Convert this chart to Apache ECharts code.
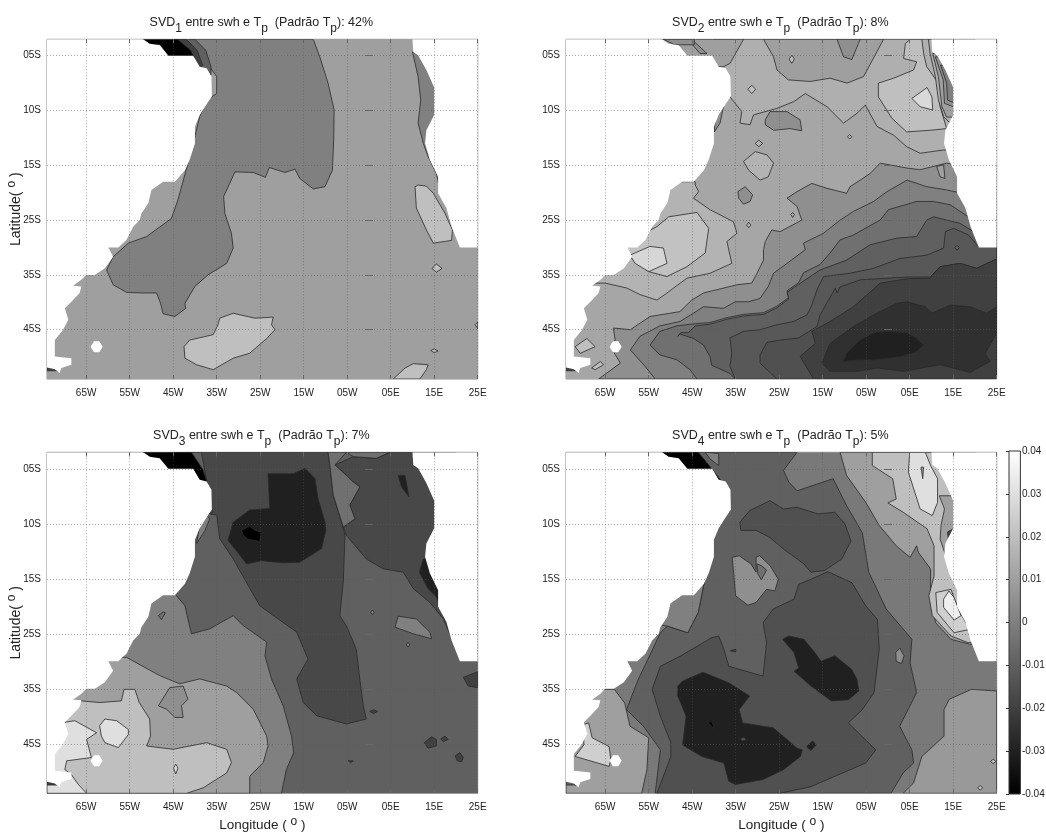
<!DOCTYPE html>
<html><head><meta charset="utf-8">
<style>html,body{margin:0;padding:0;background:#fff}#c{width:1046px;height:834px;filter:blur(0.5px)}</style>
<script src="https://cdn.jsdelivr.net/npm/echarts@6/dist/echarts.min.js"></script>
</head><body><div id="c"></div>
<script>
// ---- axis ticks and labels ----
const lonTicks=[-65,-55,-45,-35,-25,-15,-5,5,15,25];
const lonLabels=['65W','55W','45W','35W','25W','15W','05W','05E','15E','25E'];
const latTicks=[-5,-15,-25,-35,-45,-55];
const latLabels=['05S','10S','15S','25S','35S','45S'];
const lonRange=[-74,25];
const latRange=[-64,-2];
const colorRange=[-0.04,0.04];
const modeShare=['42%','8%','7%','5%'];

// ---- land (no data) ----
const landSouthAmerica=[-74,-2,-51.9,-2,-50.4,-2.8,-48.1,-3.1,-46.1,-5,-40.4,-5,-38.9,-7,-37.3,-7.3,-36.2,-8.8,-36.1,-12.4,-37.7,-14.3,-38.9,-15.8,-40,-17.9,-40,-21,-41.2,-24,-42.3,-25.9,-44.6,-28,-47.3,-28,-50,-29.5,-50.7,-31.9,-52.3,-33.8,-52.7,-35,-54.2,-36.2,-55.7,-38.6,-57.6,-40,-59.9,-40,-58.8,-41.7,-60.7,-43.8,-63,-45,-65,-45,-66.1,-45.9,-68,-47,-66.1,-47.1,-66.5,-48.3,-68,-49.6,-69.9,-51.1,-69.1,-53.2,-70.3,-55,-72.2,-56.9,-72.2,-59.9,-68.4,-60.2,-68.4,-61.4,-70.7,-62,-71.1,-62.9,-72.2,-62.2,-74,-61.9];
const landAfrica=[10,-2,10.2,-4.3,11.3,-4.9,13.2,-7.6,15,-10.8,15,-15.8,13.2,-18.6,12.9,-21,14,-24,15.9,-27.1,15.9,-30.1,17.8,-32.8,19,-36.2,20.9,-40,25,-40,25,-2];
const landIsland=[-64,-58.1,-63.2,-57.1,-62,-57.1,-61.2,-58.1,-62,-59.1,-63.2,-59.1];
const wholeBasin=[-74,-2,25,-2,25,-64,-74,-64];
const southTipStrip=[-74,-61.9,-71.5,-61.9,-71,-62.5,-74,-62.5];

// ---- filled contour regions: [value, lon,lat, lon,lat, ...] painted in order ----
const panel1Regions=[
[0.01].concat(wholeBasin),
[0,-12.8,-2,-11.3,-5.2,-9.4,-10,-8,-14.9,-8.1,-20.4,-8.4,-25.9,-10.1,-28.9,-12.8,-29.3,-15.9,-27.4,-17,-25.7,-19.3,-26.3,-22.9,-25.4,-23.8,-27.2,-26.6,-26.3,-30.8,-26.2,-32,-28.3,-33.4,-30.7,-33.1,-33.8,-31.6,-37.4,-31.2,-40.1,-32.7,-42.9,-37,-45,-40,-47.1,-42.3,-50.2,-42.1,-51.1,-44.6,-52.6,-47.3,-52.1,-47.9,-50.2,-48.8,-48.3,-51.9,-48.3,-55.7,-48.2,-58.8,-46.8,-60.3,-44.1,-58.8,-41.7,-55.3,-39.2,-51.1,-38,-45.4,-34.7,-43.9,-31.3,-41.9,-25.5,-40.4,-21,-38.9,-16.1,-37.3,-13.1,-35,-11.9,-35,-8.8,-41.2,-2],
[-0.01,-44,-2,-40,-2,-37.5,-4,-36.3,-7,-36.3,-8.5,-40,-8.5,-44,-5],
[-0.02,-45,-2,-42,-2,-39.5,-4,-38.2,-6.8,-40,-8,-45,-5],
[-0.04,-52,-2,-44,-2,-41,-4,-40.2,-5.2,-46,-5.2,-48,-3,-51,-3],
[0,10,-4.3,11.3,-8.8,11.9,-13.1,11.3,-17.3,12.5,-21,13.6,-23.4,15.5,-26.5,16,-28.3,17,-28.3,17,-4.3],
[0.02,10.6,-28.9,10.9,-32.8,13.2,-36.8,14.8,-39.2,19,-38.7,19.2,-36.8,17.5,-33.8,14.8,-30.1,13.2,-28.8,11.3,-28.6],
[0.02,-34.3,-52.9,-31.2,-52,-26.2,-52.9,-22,-52.7,-22.4,-54.1,-21.6,-55,-23.5,-56.6,-27.4,-59.3,-31.2,-60.2,-35.8,-62.3,-39.6,-61.4,-42.3,-60.2,-42.5,-58.1,-41.2,-56.9,-35.8,-55.9,-34.7,-54.1],
[0.02,5.6,-64,8.3,-62,10.2,-61.2,13.6,-61.4,13.2,-62.3,11.7,-64],
[0.02,14.5,-43.8,15.5,-43,16.8,-43.8,15.5,-44.5],
[0.02,14.2,-58.8,15,-58.5,15.9,-58.9,15,-59.2],
[0.02,25,-53.6,24.4,-54.1,25,-54.8],
[-0.02].concat(southTipStrip)
];
const panel2Regions=[
[0.012].concat(wholeBasin),
[0.015,-37,-13.1,-36.3,-12.5,-33.6,-15.2,-34,-17.3,-31.7,-17.6,-30.9,-15.8,-25.5,-14.6,-21.7,-13.4,-19,-11.9,-14,-14.3,-10.2,-17.3,-7.1,-15.5,-5.2,-14,-2.5,-17.9,1.3,-19.5,4.3,-21.6,7.4,-22.8,12.8,-22.2,15.8,-22.5,20,-22.5,20,-2,-40,-2,-40,-13],
[0.01,-52,-2,-33.2,-2,-36.3,-6.4,-37.8,-7,-45,-7,-52,-4],
[0.01,-28.6,-2,-26.3,-5.2,-25.5,-7.6,-22.9,-9.4,-17.9,-9.7,-13.3,-9.1,-9.4,-10,-5.6,-8.8,-1,-2],
[0.005,-11.7,-2,-10.2,-5.2,-8.3,-5.7,-6.8,-2.8,-6.4,-2],
[0.005,-45.1,-2,-41.6,-4.6,-43.2,-4.6,-44.8,-3.1],
[0.005,-51.6,-2,-44.5,-2,-44.5,-3,-49,-3],
[0.02,-2.2,-10,1.3,-9.1,5.9,-7.6,6.6,-6.1,3.6,-5.5,4,-2.8,5.1,-2,7.8,-2,8.2,-4.6,8.9,-7,11.6,-10,12,-14.3,13.5,-18.3,9.7,-18.6,4.3,-18.9,0.9,-16.4,-2.2,-12.5],
[0.028,5.5,-12.8,9,-10.8,10.1,-12.5,10.3,-14.9,7.4,-14.3],
[0.015,9.3,-2,9.7,-4.6,10.9,-8.8,11.6,-13.1,12.8,-16.1,14.3,-17.3,20,-17.3,20,-2],
[0.01,10.3,-4.6,11.6,-8.8,12.4,-14.3,13.5,-16.2,15,-16.2,20,-16.2,20,-4.6],
[0.005,10.9,-5.2,12.7,-9.4,13,-13.7,15,-14.3,20,-14.3,20,-5.2],
[0,12.1,-6.7,13.5,-10,13.7,-13.1,15.2,-13.6,20,-13.6,20,-7],
[0.005,-28.2,-16.7,-27.1,-15.2,-23.2,-15.2,-20.2,-16.7,-19.8,-18.7,-22.5,-18.3,-26.3,-18.6,-28.2,-17.6],
[0.016,-33.2,-24.3,-30.5,-22.5,-27.8,-23.1,-26.3,-24.6,-27.5,-27.1,-29.4,-27.7,-32,-25.9],
[0.016,-30.5,-21,-29.7,-20.4,-28.8,-21,-29.7,-21.6],
[0.005,-34.5,-29.8,-32.8,-28.9,-31.1,-30.4,-31.7,-31.6,-33.2,-32.1,-34.3,-31],
[0.005,-39.9,-18.9,-39.7,-16.7,-37.8,-14.3,-38.6,-17.3],
[0.02,-22.7,-5.6,-22.1,-4.9,-21.5,-5.6,-22.1,-6.4],
[0.02,-32.2,-11.1,-31.3,-10.4,-30.4,-11.1,-31.3,-11.9],
[0.016,-9.3,-19.8,-8.8,-19.4,-8.3,-19.8,-8.8,-20.2],
[0.016,-22.3,-34,-21.9,-33.6,-21.5,-34,-21.9,-34.5],
[0.016,-32.5,-35.9,-32,-35.4,-31.5,-35.9,-32,-36.4],
[0.016,-44.3,-28.6,-43.5,-29.8,-44.7,-31,-40.9,-33.1,-35.5,-35.3,-34.7,-37.4,-37,-38.9,-35.9,-42.9,-40.9,-44.7,-46.2,-45.6,-50.8,-48.3,-53.1,-49.6,-57,-48.6,-60,-47.4,-65,-46.5,-70,-46.5,-70,-28,-44.3,-28],
[0.021,-53.1,-36.2,-50.4,-34.4,-43.9,-33.6,-41.2,-36.5,-42,-41,-46.2,-43.5,-50.8,-45.3,-55,-44.4,-59.3,-41.7,-62,-40,-55,-37],
[0.027,-59.3,-41.4,-54.7,-39.8,-51.6,-40.1,-50.8,-42.9,-55,-44.4,-58.1,-42.9],
[0.02,-71.9,-58.1,-69.2,-56.6,-67.3,-58.1,-70.7,-59.3],
[0.02,-68.1,-62,-66.1,-60.8,-65.4,-61.4,-67.3,-62.3],
[0.005,-66.5,-64,-61.5,-61.1,-63.8,-58.1,-62.7,-56.9,-63.1,-54.7,-59.2,-55,-54.7,-52.6,-47.8,-51.7,-45.1,-49.6,-42.4,-48.3,-39.3,-47.7,-34.7,-46.8,-31.3,-46.5,-30.1,-44.7,-28.6,-42.3,-28.6,-40.4,-28.2,-38.9,-26.7,-36.8,-24.8,-37.1,-19.8,-35,-20.9,-32.5,-23.2,-31,-20.9,-29.8,-17.5,-28.3,-14,-29.2,-9.5,-30.1,-8.7,-28.9,-4.1,-26.5,-1.8,-24.6,4.4,-25.5,7.4,-25.8,13.5,-24.6,16.2,-24.9,25,-24.9,25,-64],
[0.01,11.2,-25.2,12.8,-24.9,13.1,-27.4,12,-27.1],
[0,-53.5,-64,-55.8,-61.7,-59.2,-58.7,-57,-56.2,-52.4,-54.3,-47.8,-53.5,-44.7,-52,-42.4,-50.8,-37.8,-51.1,-35.1,-49.9,-32,-49.9,-29.4,-49.3,-27.5,-47.1,-26.3,-44.7,-23.2,-42.9,-19,-40.4,-19.4,-39.2,-14.8,-37.4,-11,-35,-7.9,-33.4,-3.3,-31.6,-0.2,-29.8,4.4,-27.7,8.9,-28.9,13.5,-29.5,17,-30.1,25,-30.1,25,-64],
[-0.005,-43.9,-64,-45.5,-62.3,-48.5,-60.5,-52.4,-59.6,-54.7,-57.8,-52.4,-55.3,-48.5,-54.3,-44.3,-53.9,-40.9,-53.7,-37,-52.8,-33.2,-52.2,-28.6,-51.9,-25.5,-50.7,-22.8,-49.1,-23.2,-47.9,-20.5,-46.4,-19.4,-44.6,-15.6,-43.1,-13.3,-41,-11,-38.6,-7.9,-37.7,-1.8,-35,0.1,-33.1,6.6,-31.6,10.5,-31.6,14.3,-32.2,18.5,-34.4,25,-34.4,25,-64],
[-0.01,-35.1,-64,-36.3,-63,-40.5,-61.5,-40.9,-59.9,-42.4,-57.8,-44.7,-56.6,-47.8,-55.8,-48.3,-56.2,-47.6,-55.5,-45.8,-55.5,-44.3,-54.3,-40.9,-54,-37,-53.1,-33.2,-52.5,-28.6,-52.2,-25.5,-51,-22.8,-49.4,-23.2,-48.2,-20.5,-46.7,-15.6,-44.1,-9.5,-42.3,-4.1,-39.5,2,-38.3,6.6,-38,8.9,-35,10.5,-34.4,16.6,-35.6,19.7,-37.1,25,-37.1,25,-64],
[-0.0125,-35.1,-64,-36.3,-61.7,-35.9,-59.3,-36.3,-56.5,-33.2,-55.3,-29.4,-55,-25.5,-54.1,-21.7,-53.5,-18.6,-52.3,-17.5,-50.5,-16.3,-47.7,-14.8,-45.3,-8.7,-44.7,-3.3,-43.8,2.8,-42,8.9,-41.4,12.8,-40.1,13.2,-37.1,15.1,-36.5,18.5,-37.7,20.8,-39.8,25,-39.8,25,-64],
[-0.015,-25.5,-64,-29.4,-61.1,-29.4,-59.6,-27.8,-57.3,-24.8,-56.9,-20.5,-56.5,-16.3,-54.4,-15.6,-52.3,-12.1,-47.4,-11.7,-48.3,-11,-47.2,-6.4,-45.9,4.4,-45.4,9.7,-45.4,12,-43.5,16.6,-42.9,20.4,-43.8,25,-42.1,25,-64],
[-0.02,-17.1,-64,-20.2,-59.9,-16.7,-57.5,-17.5,-55.3,-13.3,-53.5,-7.9,-50.8,-1.8,-46.5,4.4,-45.7,9.7,-45.6,12,-43.5,16.6,-42.9,20.4,-43.8,25,-42.1,25,-64],
[-0.025,-15.2,-61.1,-13.3,-57.5,-7.9,-54.4,-3.3,-52.3,2,-50.2,4.4,-49.9,8.6,-50.8,10.1,-52,14.3,-50.5,18.9,-50.8,22.7,-52,25,-50.8,25,-55.6,22.4,-59.3,23.5,-60.8,18.9,-62.8,12,-61.4,3.6,-62.6,-2.5,-62,-7.1,-62.6,-13.3,-62.6],
[-0.03,-10.2,-60.8,-9.5,-59.3,-6.4,-56.9,-3.3,-55.6,-0.2,-55.3,4.4,-55.6,6.6,-56.6,8.2,-57.8,6.6,-59,2.8,-59.9,-3.3,-60.5,-7.1,-60.5],
[-0.01,15.4,-40,15.9,-39.6,16.4,-40,15.9,-40.5],
[-0.02].concat(southTipStrip)
];
const panel3Regions=[
[-0.01].concat(wholeBasin),
[-0.0175,-45,-2,-38.5,-2,-36,-13,-37.7,-13.1,-35,-13.4,-34.3,-17.7,-31.2,-21.4,-25.1,-29.9,-16.6,-34.7,-14,-39.6,-16.6,-43.2,-15.1,-47.5,-12,-49.9,-5.2,-51.4,-0.6,-50.5,-1.3,-48.1,-2.1,-43.2,-2.9,-37.8,-5.2,-33.5,-6.7,-31.7,-5.9,-25.6,-5.5,-17.1,-5.9,-15.9,-8.2,-9.8,-9,-4.3,-9.4,-2],
[-0.0175,-7.8,-4.3,-3.6,-2.8,1.7,-3.1,4.8,-2,20,-2,20,-36.5,19.4,-36.5,17.1,-32.3,14,-29.3,10.2,-26.8,7.9,-23.8,3.3,-23.2,-0.6,-21.4,-5.2,-17.1,-5.9,-15.6,-3.2,-14.1,-4.4,-11.6,-2.1,-8.3,-3.6,-7.4,-5.2,-6.2],
[-0.005,-9.4,-2,-5.2,-2,-7.8,-4.3,-5.2,-6.2,-3.6,-7.4,-2.1,-8.3,-4.4,-11.6,-3.2,-14.1,-5.9,-15.6,-8.2,-9.8,-9,-4.3],
[-0.005,-5.2,-2,-3.6,-2.8,1.7,-3.1,4.8,-2],
[0,-23.5,-36.5,-23.9,-39,-22.4,-43.2,-19.7,-48.1,-17.8,-53.6,-17.3,-56.6,-19,-59.7,-20.1,-64,-74,-64,-74,-28,-44.6,-27.7,-42.3,-29.9,-40.8,-35,-36.6,-34.1,-31.2,-31.7,-28.9,-33.5],
[0,-38.9,-15.3,-37.3,-13.4,-36.6,-14.1,-37.7,-16.2,-39.6,-18.6],
[0.01,-55.7,-39.3,-48.1,-42.6,-43.5,-44.1,-38.9,-43.2,-32.7,-44.5,-30.4,-45.7,-26.6,-48.7,-23.5,-53.6,-23.2,-55.4,-24.3,-58.4,-27.4,-60.9,-27.4,-64,-74,-64,-74,-39.3],
[0.005,-48.4,-48.1,-45.8,-44.8,-42.7,-44.5,-41.6,-46.9,-43.1,-48.1,-42.7,-50.2,-44.6,-50.2,-46.5,-48.7],
[0.02,-66.1,-47.2,-61.9,-47.5,-56.9,-47.2,-56.3,-45.1,-53.8,-45.1,-52.8,-47.5,-50.4,-50.5,-50.2,-53.6,-51.1,-55.4,-45,-56,-37.3,-54.8,-32.7,-56,-31.6,-58.4,-32.7,-60.3,-38.1,-63,-41.9,-64,-74,-64,-74,-47.2],
[0.03,-69.9,-51.1,-67.6,-50.8,-62.6,-53,-64.9,-54.2,-63.8,-57.5,-69.5,-58.1,-69.9,-59.7,-68.4,-60.6,-66.8,-62.4,-64.9,-64,-74,-64,-74,-51],
[0.03,-61.9,-51.7,-60.7,-50.5,-58,-50.8,-55.3,-52.4,-55.3,-53.3,-57.6,-55.7,-60.7,-54.8,-61.5,-53.6],
[0.03,-44.9,-59.4,-44.4,-58.7,-43.9,-59.4,-44.4,-60.5],
[-0.03,-23.2,-5.9,-17.4,-5.9,-14.7,-4.9,-12.4,-6.8,-11.7,-10.4,-10.1,-14.7,-9.9,-16.2,-10.9,-19.5,-15.9,-22,-19.7,-22.1,-24.7,-21.7,-28.1,-22.3,-32.4,-18,-31.2,-14.7,-27.4,-12.5,-22.8,-12.2],
[-0.04,-29.3,-16.2,-27.4,-15.4,-26.2,-16.2,-24.7,-16.5,-25.1,-18.2,-27.8,-17.8,-28.9,-17.1],
[-0.04,-52,-2,-40.8,-2,-38.1,-5.2,-37,-8,-45,-8,-50,-3],
[-0.03,6.7,-6.2,8.3,-6.2,9.2,-10.1,7.5,-8.3],
[-0.03,11.6,-23.8,13.6,-26.8,15.5,-28.3,17.1,-31.7,20,-31.7,20,-21,12.5,-21.4],
[0,6,-33.8,6.7,-31.8,10.9,-32.3,14,-34.7,14.4,-35.9,10.2,-35],
[-0.02,21.7,-42.9,25,-41.9,25,-44.8,22.8,-44.5],
[-0.02,12.7,-54.8,14.4,-53.7,15.5,-54.2,15.5,-55.4,13.6,-55.8],
[-0.02,16.5,-54.1,17.5,-53.6,18.2,-54.2,17.1,-54.6],
[-0.02,19.8,-57.2,20.9,-56.6,21.7,-57.5,21.3,-58.3,20.3,-58.1],
[-0.02,0.2,-49.1,1.1,-48.8,2,-49.1,1,-49.5],
[-0.02,-4.8,-58.1,-3.6,-58.1,-4.2,-58.4],
[-0.005,-48.4,-31.7,-47.3,-31,-46.8,-31.2,-47.7,-32.4],
[0,0.4,-31.1,0.8,-30.7,1.2,-31.1,0.8,-31.5],
[0,8.6,-37,9,-36.6,9.4,-37,9,-37.4],
[-0.02].concat(southTipStrip)
];
const panel4Regions=[
[-0.002].concat(wholeBasin),
[0.01,-62.9,-45.1,-60.5,-47.6,-59.3,-51.8,-55,-53.9,-55.4,-59.7,-56.6,-64,-74,-64,-74,-45.1],
[0.025,-68.8,-51.2,-68,-53.9,-64.1,-55.5,-63.7,-57.9,-64.1,-59.1,-71.9,-57.3,-69.9,-55.2,-69.9,-51.5],
[-0.01,-54.6,-38.7,-57.4,-43.3,-60.1,-48.8,-56.2,-51.8,-52.3,-56.1,-53.5,-64,0.7,-64,3.5,-60.3,5.9,-58.5,5.5,-56.1,2.7,-51.8,6.6,-45.7,5.1,-40.3,5.5,-36,-0.4,-30.5,-4.4,-23.8,-5.9,-16.6,-9.5,-11.7,-12.6,-6.8,-20.9,-9,-22.8,-7.4,-24,-5.3,-20.9,-2,-45,-2,-45,-25,-41.3,-22,-43.6,-31.1,-46,-34.8,-50.7,-33.6,-52.3,-34.8],
[0.01,-11,-2,-9.5,-6.2,-5.1,-11.1,-2,-15.3,1.9,-19,5.1,-21.1,6.6,-19,7,-20.2,9.8,-23.2,9.8,-29.3,11,-33,14.5,-36,18.8,-36.9,20,-36.9,20,-2],
[0.02,-3.6,-2,-3.6,-4.4,1.1,-6.8,1.9,-10.5,0,-11.2,3.5,-12.9,9,-15.9,10.6,-19,10.6,-24.5,9.4,-28.1,10.2,-31.7,14.5,-35.4,18.4,-36.6,20,-36.6,20,-2],
[0.01,11.8,-9.9,13,-12.3,12.2,-15.3,12,-17.8,13.8,-22,16.5,-26.3,20,-26.3,20,-9.9],
[0.03,5,-2,4.7,-5.6,7.4,-12.3,10.2,-13.5,11.4,-11.1,11.4,-6.8,9.8,-4.4,8.6,-2],
[0.025,11,-27.5,14.5,-26.9,16.1,-30.5,18.8,-34.2,15.2,-34.8,11.3,-31.1],
[0.035,12.8,-28.7,14,-27.2,15.2,-28.4,16.8,-31.7,15.2,-32.5,12.8,-30.2],
[-0.02,13.7,-16.5,15,-15.9,14,-18.7],
[0.01,7.6,-4.7,8.2,-4.7,8,-6.8],
[0.008,25,-45.4,19.2,-45.1,14.1,-46.9,12.9,-48.8,12.9,-53.6,7.8,-57.3,5.9,-62.1,3.5,-64,25,-64],
[-0.015,-20.5,-26,-17.7,-25.1,-13.8,-23.7,-8.3,-25.7,-5.1,-29.9,-2.4,-32.4,-2,-37.8,-3.2,-45.7,-5.9,-48.8,-9.1,-51.2,-2.8,-56.1,-5.1,-58.5,-12.2,-60.9,-17.7,-62.8,-24.8,-64,-53.1,-64,-49.9,-57.3,-49.9,-54.8,-52.3,-50,-54.2,-45.1,-52.3,-40.9,-47.6,-39,-40.5,-35.7,-38.9,-35.4,-37.7,-37.8,-36.6,-40.9,-28.7,-42.7,-27.9,-36.6,-28.7,-33,-26.4,-30.5,-21.6,-28.7],
[-0.015,-34,-14.7,-31.8,-12.6,-27.1,-10.8,-24,-12.3,-20.9,-12,-16.1,-13.2,-12.2,-12.9,-9.9,-15,-8.5,-18.1,-10.6,-21.4,-14.6,-23.5,-17.7,-23.8,-19.3,-22.3,-24,-19.6,-27.1,-17.5,-30.3,-16.2,-33.8,-16.2],
[-0.03,-48.3,-44.5,-47.2,-43.6,-42.5,-42,-36.6,-43.9,-31.8,-46.3,-34.2,-48.8,-33.4,-51.2,-26.4,-52.1,-23.2,-54.2,-20.9,-55.8,-19.7,-56.1,-20.1,-57.3,-24,-59.7,-28.7,-61.5,-35,-62.4,-36.6,-61.8,-37.7,-58.5,-42.8,-57.3,-47.2,-55.2,-46.4,-50,-48.3,-46.3],
[-0.03,-24.2,-36,-22.8,-35.4,-19.3,-36,-16.5,-38.7,-15.4,-40,-12.2,-39,-8.3,-41.5,-7.1,-43.3,-6.7,-45.4,-9.1,-47,-13,-47.2,-17.7,-44.5,-21.6,-41.8,-20.5,-41.2,-21.6,-38.4],
[-0.03,-18.7,-55.5,-17.3,-54.5,-16.5,-55.2,-17.7,-56.2],
[-0.04,-41.4,-51.2,-40.5,-50.9,-39.9,-52.3,-40.6,-51.7],
[-0.015,-34,-54.1,-33.1,-53.8,-32.5,-54.2,-33.4,-54.5],
[0.005,-35.8,-21.1,-34.2,-20.8,-31.5,-22.3,-30.3,-23.8,-30.3,-21.1,-29.5,-20.8,-27.1,-22.6,-25.2,-25.1,-26,-27.2,-27.9,-26.9,-30.3,-29.3,-32.2,-29.8,-35,-28.1,-35.4,-24.5],
[-0.005,-30.1,-22.3,-29.1,-22.6,-27.9,-23.4,-29.1,-25.2,-29.9,-24.1],
[0.005,1.8,-38.4,2.7,-37.6,3.7,-39,3.1,-40.4,1.9,-40],
[-0.02,-36.2,-38.1,-35,-37.8,-35,-38.3],
[0.02,23.6,-58.2,24.2,-57.8,24.8,-58.2,24.2,-58.6],
[0.02,20.6,-63,21.2,-62.6,21.8,-63,21.2,-63.4],
[0,-41.3,-22,-43.6,-31.1,-46,-34.8,-50.7,-33.6,-55,-33,-50,-22],
[-0.04,-51.9,-2,-43.6,-2,-41.7,-3.8,-38.5,-7,-46,-7,-51.1,-3],
[0,-42,-2,-38.9,-2.2,-38.9,-4.4,-40.9,-3.2],
[-0.01].concat(southTipStrip)
];
const panelRegions=[panel1Regions,panel2Regions,panel3Regions,panel4Regions];

// ---- layout ----
const boxes=[{l:47,r:477.7,t:39.3,b:379},{l:566,r:996.7,t:39.3,b:379},{l:47,r:477.7,t:452.3,b:793.3},{l:566,r:996.7,t:452.3,b:793.3}];
const W=1046,H=834;
const gray=v=>{const g=Math.round(Math.min(1,Math.max(0,(v-colorRange[0])/(colorRange[1]-colorRange[0])))*255);return `rgb(${g},${g},${g})`;};
const txt='#222';
const gridDots={color:'rgba(90,90,90,0.5)',type:[1,2],width:1};

function polyItem(flat,style,api){
  const pts=[];
  for(let i=0;i<flat.length;i+=2){pts.push(api.coord([flat[i],flat[i+1]]));}
  return {type:'polygon',shape:{points:pts},style};
}
function makeRender(regions){
  return function(params,api){
    const r=regions[params.dataIndex];
    const isBase=params.dataIndex===0;
    return polyItem(r.slice(1),{fill:gray(r[0]),stroke:isBase?null:'#2a2a2a',lineWidth:isBase?0:0.8},api);
  };
}
const lands=[landSouthAmerica,landAfrica,landIsland];
function renderLand(params,api){
  return polyItem(lands[params.dataIndex],{fill:'#fff',stroke:null},api);
}

const grid=[],xAxis=[],yAxis=[],series=[],title=[];
const subRich={sub:{fontSize:12,color:txt,padding:[11,0,0,0]}};
const supRich={sup:{fontSize:12,color:txt,padding:[0,0,8,0]}};
boxes.forEach((b,i)=>{
  grid.push({left:b.l,top:b.t,width:b.r-b.l,height:b.b-b.t,show:true,borderColor:'#8a8a8a',borderWidth:1,backgroundColor:'#fff',z:1,outerBoundsMode:'none'});
  const lower=i>=2,left=i%2===0;
  xAxis.push({type:'value',gridIndex:i,min:lonRange[0],max:lonRange[1],z:6,
    name:lower?'Longitude ( {sup|o} )':'',nameLocation:'middle',nameGap:22,nameMoveOverlap:false,
    nameTextStyle:{fontSize:13.5,color:txt,rich:supRich},
    axisLine:{show:false},
    axisTick:{show:true,inside:true,length:4,customValues:lonTicks,lineStyle:{color:'#666'}},
    axisLabel:{show:true,customValues:lonTicks,fontSize:10,color:txt,margin:9,formatter:v=>lonLabels[lonTicks.indexOf(v)]},
    splitLine:{show:true,lineStyle:gridDots}});
  yAxis.push({type:'value',gridIndex:i,min:latRange[0],max:latRange[1],z:6,
    name:left?'Latitude( {sup|o} )':'',nameLocation:'middle',nameGap:21,nameRotate:90,nameMoveOverlap:false,
    nameTextStyle:{fontSize:14,color:txt,rich:supRich},
    axisLine:{show:false},
    axisTick:{show:true,inside:true,length:4,customValues:latTicks,lineStyle:{color:'#666'}},
    axisLabel:{show:true,customValues:latTicks,fontSize:10,color:txt,margin:6,formatter:v=>latLabels[latTicks.indexOf(v)]},
    splitLine:{show:true,lineStyle:gridDots}});
  title.push({text:`SVD{sub|${i+1}} entre swh e T{sub|p}  (Padrão T{sub|p}): ${modeShare[i]}`,
    left:(b.l+b.r)/2-6,top:b.t-33,textAlign:'center',
    textStyle:{fontSize:12.5,fontWeight:'normal',color:txt,fontFamily:'Liberation Sans',rich:subRich}});
  const regions=panelRegions[i];
  series.push({type:'custom',coordinateSystem:'cartesian2d',xAxisIndex:i,yAxisIndex:i,z:2,clip:true,silent:true,animation:false,
    renderItem:makeRender(regions),data:regions.map((r,k)=>[k,r[0]])});
  series.push({type:'custom',coordinateSystem:'cartesian2d',xAxisIndex:i,yAxisIndex:i,z:3,clip:true,silent:true,animation:false,
    renderItem:renderLand,data:lands.map((l,k)=>[k])});
});
// opposite-side ticks
boxes.forEach((b,i)=>{
  xAxis.push({type:'value',gridIndex:i,position:'top',min:lonRange[0],max:lonRange[1],z:6,axisLine:{show:false},
    axisTick:{show:true,inside:true,length:4,customValues:lonTicks,lineStyle:{color:'#666'}},axisLabel:{show:false},splitLine:{show:false}});
  yAxis.push({type:'value',gridIndex:i,position:'right',min:latRange[0],max:latRange[1],z:6,axisLine:{show:false},
    axisTick:{show:true,inside:true,length:4,customValues:latTicks,lineStyle:{color:'#666'}},axisLabel:{show:false},splitLine:{show:false}});
});
// colour bar
const cb={l:1009,r:1020.4,t:451,b:794};
grid.push({left:cb.l,top:cb.t,width:cb.r-cb.l,height:cb.b-cb.t,show:false,outerBoundsMode:'none'});
xAxis.push({type:'value',gridIndex:4,min:0,max:1,show:false});
yAxis.push({type:'value',gridIndex:4,position:'right',min:colorRange[0],max:colorRange[1],interval:0.01,z:6,
  axisLine:{show:false},
  axisTick:{show:true,inside:true,length:3,lineStyle:{color:'#333'}},
  axisLabel:{fontSize:10,color:txt,margin:1.5,formatter:v=>String(Math.round(v*100)/100)},
  splitLine:{show:false}});
const cbIdx=xAxis.length-1;
series.push({type:'custom',coordinateSystem:'cartesian2d',xAxisIndex:cbIdx,yAxisIndex:cbIdx,z:2,silent:true,animation:false,
  data:[[0,colorRange[0]]],
  renderItem:(p,api)=>{
    const a=api.coord([0,colorRange[1]]),c=api.coord([1,colorRange[0]]);
    return {type:'rect',shape:{x:a[0],y:a[1],width:c[0]-a[0],height:c[1]-a[1]},
      style:{stroke:'#333',lineWidth:1,fill:new echarts.graphic.LinearGradient(0,0,0,1,[{offset:0,color:'#fff'},{offset:1,color:'#000'}])}};
  }});

const chart=echarts.init(document.getElementById('c'),null,{renderer:'canvas',width:W,height:H});
chart.setOption({animation:false,backgroundColor:'#fff',textStyle:{fontFamily:'Liberation Sans'},title,grid,xAxis,yAxis,series});
</script>
</body></html>
